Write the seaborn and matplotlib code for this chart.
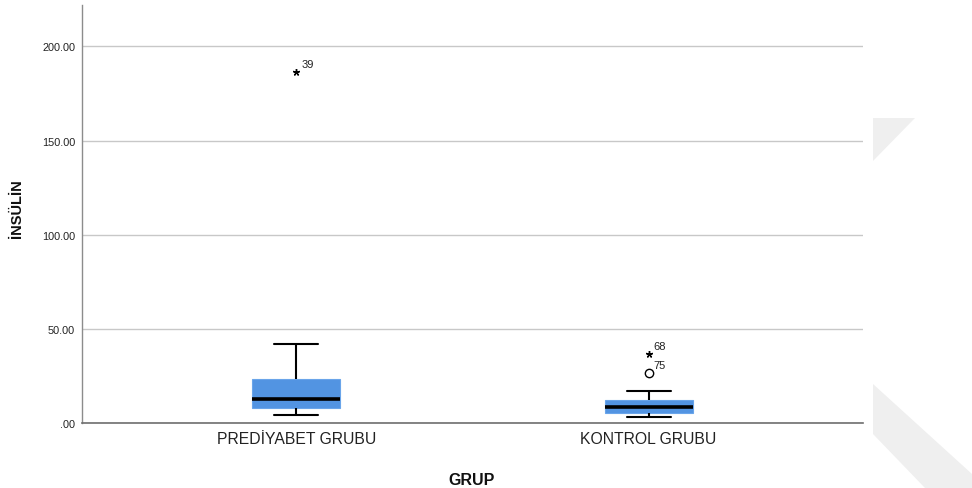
import matplotlib
matplotlib.use("Agg")
import matplotlib.pyplot as plt
from matplotlib.patches import Polygon
import pandas as pd
import seaborn as sns

# Groups and five-number summaries (lower whisker, Q1, median, Q3, upper whisker)
groups = ["PREDİYABET GRUBU", "KONTROL GRUBU"]
prediyabet_summary = [4.1, 8.0, 12.6, 23.2, 42.0]
kontrol_summary = [3.0, 5.5, 8.3, 12.0, 17.2]

# Outlying cases: group, value, case number, kind (extreme '*' or outlier 'o')
outlier_group = ["PREDİYABET GRUBU", "KONTROL GRUBU", "KONTROL GRUBU"]
outlier_value = [186.3, 36.7, 26.4]
outlier_case = ["39", "68", "75"]
outlier_kind = ["*", "*", "o"]

y_ticks = [0, 50, 100, 150, 200]
y_tick_labels = [".00", "50.00", "100.00", "150.00", "200.00"]

box_color = "#5294e2"
font = "Liberation Sans"

df = pd.DataFrame({
    "GRUP": [groups[0]] * len(prediyabet_summary) + [groups[1]] * len(kontrol_summary),
    "INSULIN": prediyabet_summary + kontrol_summary,
})

sns.set_theme(style="white")
plt.rcParams["font.family"] = [font, "DejaVu Sans"]

fig = plt.figure(figsize=(9.72, 4.89), dpi=100)
ax = fig.add_axes([82 / 972, 1 - 424 / 489, (863 - 82) / 972, (424 - 6) / 489])

sns.boxplot(
    data=df, x="GRUP", y="INSULIN", order=groups, ax=ax,
    whis=(0, 100), width=0.25, color=box_color, saturation=1,
    linecolor="black", linewidth=1.5, fliersize=0,
    boxprops=dict(edgecolor="#6aa5ea", linewidth=0.8),
    medianprops=dict(color="black", linewidth=2.6),
    whiskerprops=dict(color="black", linewidth=1.5),
    capprops=dict(color="black", linewidth=1.5),
)

# Outlying cases with their case numbers
for g, v, c, k in zip(outlier_group, outlier_value, outlier_case, outlier_kind):
    xpos = groups.index(g)
    if k == "*":
        ax.plot(xpos, v, marker=(5, 2, 0), markersize=5, color="black",
                markeredgewidth=1.0, linestyle="none", zorder=5)
    else:
        ax.plot(xpos, v, marker="o", markersize=6, markerfacecolor="white",
                markeredgecolor="black", markeredgewidth=1.0, linestyle="none", zorder=5)
    ax.annotate(c, (xpos, v), xytext=(3.5, 6), textcoords="offset points",
                fontsize=8, ha="left", va="center", color="#222222")

ax.set_xlim(-0.609, 1.609)
ax.set_ylim(0, 222)
ax.set_yticks(y_ticks)
ax.set_yticklabels(y_tick_labels)
ax.yaxis.grid(True, color="#c8c8c8", linewidth=1.0)
ax.xaxis.grid(False)
ax.set_axisbelow(True)

for side in ["top", "right"]:
    ax.spines[side].set_visible(False)
ax.spines["left"].set_color("#8c8c8c")
ax.spines["left"].set_linewidth(1.0)
ax.spines["bottom"].set_color("#6e6e6e")
ax.spines["bottom"].set_linewidth(1.2)

ax.tick_params(axis="y", length=0, pad=5, labelsize=7.8, labelcolor="#222222")
ax.tick_params(axis="x", length=0, pad=6, labelsize=11.3, labelcolor="#222222")

ax.set_xlabel("GRUP", fontsize=11.5, fontweight="bold", color="#111111")
ax.set_ylabel("İNSÜLİN", fontsize=10.5, fontweight="bold", color="#111111")
ax.xaxis.set_label_coords((472 - 82) / 781, (424 - 473) / 418)
ax.yaxis.set_label_coords((24 - 82) / 781, (424 - 209) / 418)

# Faint background shapes at the right margin
W, H = 972, 489
def px(points):
    return [(x / W, 1 - y / H) for x, y in points]

fig.patches.append(Polygon(px([(873, 119), (915, 119), (873, 162)]),
                           closed=True, transform=fig.transFigure,
                           facecolor="#efefef", edgecolor="none", zorder=0))
fig.patches.append(Polygon(px([(873, 385), (972, 475), (972, 489), (925, 489), (873, 435)]),
                           closed=True, transform=fig.transFigure,
                           facecolor="#efefef", edgecolor="none", zorder=0))

fig.savefig("out.png", dpi=100)
